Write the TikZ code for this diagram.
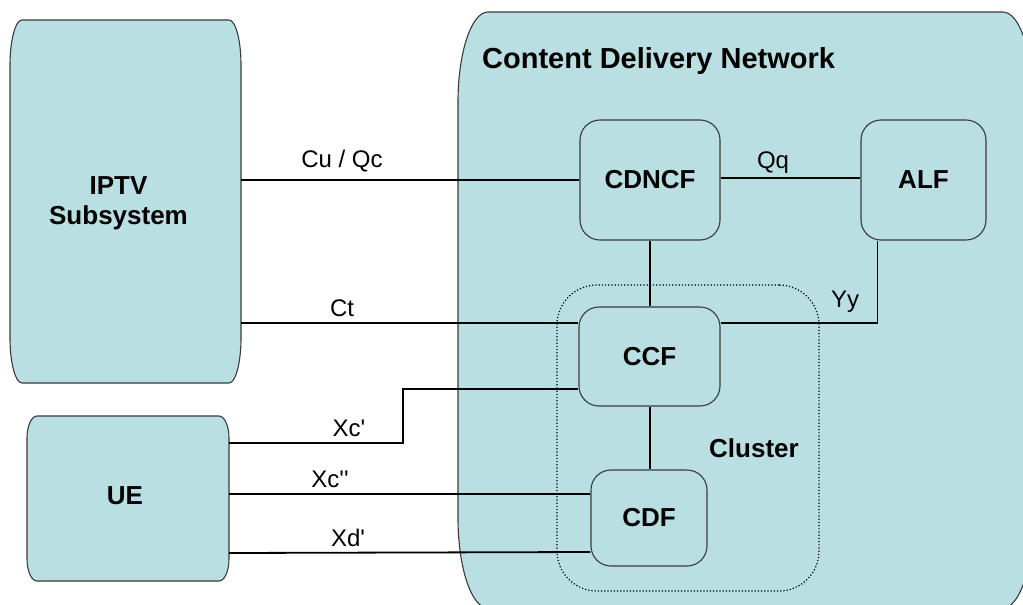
\documentclass[tikz,border=0pt]{standalone}
\usepackage{fontspec}
\setmainfont{Liberation Sans}
\definecolor{boxfill}{HTML}{B9DFE2}
\definecolor{boxline}{HTML}{3A3A3A}
\newcommand\eboxpath[6]{(#1+#5,#2) -- (#3-#5,#2) .. controls (#3-0.448*#5,#2) and (#3,#2+0.448*#6) .. (#3,#2+#6) -- (#3,#4-#6) .. controls (#3,#4-0.448*#6) and (#3-0.448*#5,#4) .. (#3-#5,#4) -- (#1+#5,#4) .. controls (#1+0.448*#5,#4) and (#1,#4-0.448*#6) .. (#1,#4-#6) -- (#1,#2+#6) .. controls (#1,#2+0.448*#6) and (#1+0.448*#5,#2) .. (#1+#5,#2) -- cycle}
\newcommand\sq{\textquotesingle}
\begin{document}
\begin{tikzpicture}[x=1pt,y=-1pt,
  shapebox/.style={fill=boxfill,draw=boxline,line width=1.1pt},
  fbox/.style={shapebox,rounded corners=20pt,inner sep=0pt,font=\fontsize{26}{30}\selectfont\bfseries},
  hold/.style={inner sep=0pt},
  boldtxt/.style={inner sep=0pt,font=\fontsize{26}{30}\selectfont\bfseries,align=center},
  conn/.style={line width=1.8pt,black},
  lbl/.style={inner sep=0pt,font=\fontsize{24}{28}\selectfont}]
\useasboundingbox (0,0) rectangle (1023,605);
\clip (0,0) rectangle (1023,605);
% big shapes
\draw[shapebox] \eboxpath{458}{12}{1033}{608}{30}{90};
\draw[shapebox] \eboxpath{10}{20}{241}{383}{12}{45};
\draw[shapebox] \eboxpath{27}{416}{229}{581}{10}{22};
\node[hold,minimum width=231pt,minimum height=363pt] (iptv) at (125.5,201.5) {};
\node[boldtxt] (iptvlbl) at (118.5,203.5) {IPTV\\Subsystem};
\node[hold,minimum width=202pt,minimum height=165pt] (ue) at (128,498.5) {};
\node[boldtxt] (uelbl) at (125,496) {UE};
\node[inner sep=0pt,anchor=west,font=\fontsize{29}{33}\selectfont\bfseries] (cdn) at (482,61) {Content Delivery Network};
% cluster
\node[draw=black,dotted,line width=1.2pt,rounded corners=40pt,minimum width=262pt,minimum height=306pt] (cluster) at (688,438) {};
\node[boldtxt] (clusterlbl) at (754,448) {Cluster};
% functional boxes
\node[fbox,minimum width=140pt,minimum height=120pt] (cdncf) at (650,180) {CDNCF};
\node[fbox,minimum width=125pt,minimum height=120pt] (alf) at (923.5,180) {ALF};
\node[fbox,minimum width=141pt,minimum height=99pt] (ccf) at (649.5,356.5) {CCF};
\node[fbox,minimum width=116pt,minimum height=96pt] (cdf) at (649,518) {CDF};
% connectors
\draw[conn] (iptv.east |- cdncf.west) -- (cdncf.west);
\draw[conn] (cdncf.east |- 0,178) -- (alf.west |- 0,178);
\draw[conn] (cdncf.south -| 650,0) -- (ccf.north -| 650,0);
\draw[conn] (ccf.south -| 650,0) -- (cdf.north -| 650,0);
\draw[conn] (ccf.east |- 0,323) -| ([xshift=17pt]alf.south west);
\draw[conn] (iptv.east |- 0,323) -- (ccf.west |- 0,323);
\coordinate (xcbend) at (403,389);
\draw[conn] (ue.east |- 0,443) -| (xcbend) -- (ccf.west |- xcbend);
\draw[conn] (ue.east |- 0,494) -- (cdf.west |- 0,494);
\draw[conn] (ue.east |- 0,553) -- (cdf.west |- 0,552);
% labels
\node[lbl] (lcu) at (342,161) {Cu / Qc};
\node[lbl] (lct) at (342,308) {Ct};
\node[lbl] (lqq) at (773,163) {Qq};
\node[lbl] (lyy) at (845,302) {Yy};
\node[lbl] (lxc1) at (349,428) {Xc\sq};
\node[lbl] (lxc2) at (330,479) {Xc\sq\sq};
\node[lbl] (lxd) at (348,538) {Xd\sq};
\end{tikzpicture}
\end{document}
